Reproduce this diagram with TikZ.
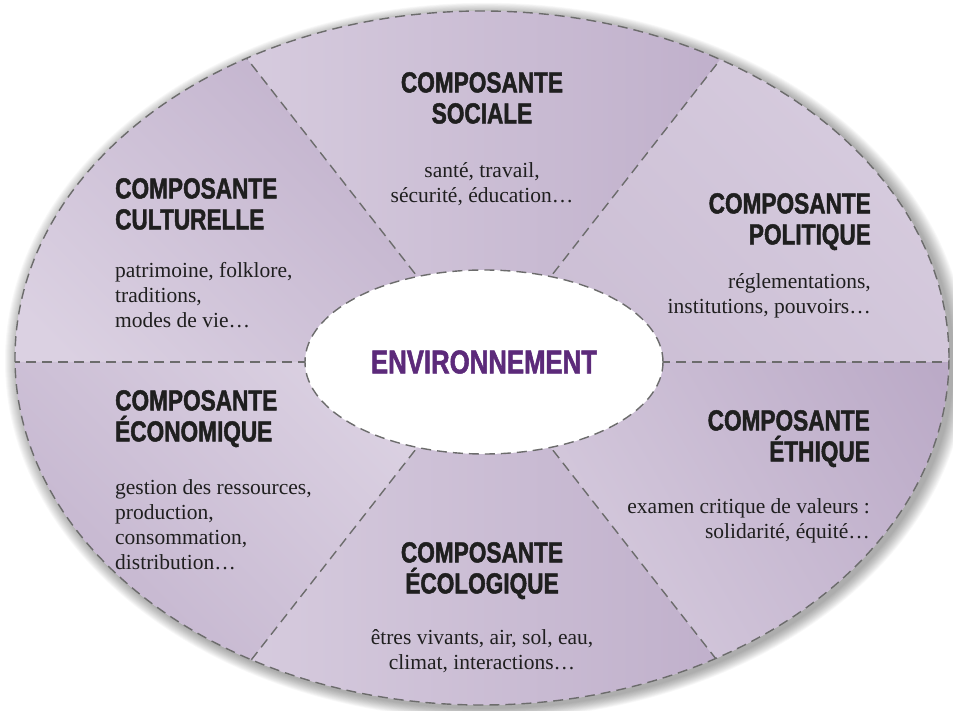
\documentclass[tikz,border=0pt]{standalone}
\usepackage{fontspec}
\setmainfont{Liberation Serif}
\newfontfamily\titlefont[FakeStretch=0.78, FakeBold=1.6]{Liberation Sans}
\usetikzlibrary{positioning}
\definecolor{sectorlight}{RGB}{219,209,226}
\definecolor{sectormid}{RGB}{204,191,213}
\definecolor{sectordark}{RGB}{187,170,199}
\definecolor{envpurple}{RGB}{92,42,122}
\definecolor{dashgray}{RGB}{108,108,108}
\tikzset{
    divider/.style={draw=dashgray, line width=1.4pt, dash pattern=on 10pt off 6pt},
    comptitle/.style={font=\titlefont\bfseries\fontsize{29}{31}\selectfont, text=black!88, inner sep=0pt},
    comptext/.style={font=\fontsize{21.5}{25}\selectfont, text=black!88, inner sep=0pt},
}

\begin{document}
\begin{tikzpicture}[x=1pt, y=1pt]

    \useasboundingbox (0,0) rectangle (953,710);
    \coordinate (c) at (484,348);
    \coordinate (o) at (482,352);

    % soft shadow
    \foreach \s in {1,...,14}{
        \fill[black, opacity=0.028] (486,349) ellipse ({467+\s} and {347+0.8*\s});
    }

    \fill[sectorlight] (o) ellipse (467 and 347);

    % sectors
    \begin{scope}
        \clip (o) ellipse (467 and 347);
        \shade[left color=sectorlight, right color=sectordark] (c) -- +(52:560) -- +(128:560) -- cycle;
        \shade[top color=sectordark, bottom color=sectorlight, shading angle=-45] (c) -- +(128:560) -- +(180:560) -- cycle;
        \shade[top color=sectordark, bottom color=sectorlight, shading angle=135] (c) -- +(180:560) -- +(232:560) -- cycle;
        \shade[left color=sectorlight, right color=sectordark] (c) -- +(232:560) -- +(308:560) -- cycle;
        \shade[top color=sectordark, bottom color=sectorlight, shading angle=-60] (c) -- +(308:560) -- +(360:560) -- cycle;
        \shade[top color=sectormid, bottom color=sectorlight, shading angle=135] (c) -- +(0:560) -- +(52:560) -- cycle;

        \foreach \a in {0,52,128,180,232,308}{
            \draw[divider] (c) -- +(\a:560);
        }
    \end{scope}

    \draw[divider] (o) ellipse (467 and 347);
    \filldraw[divider, fill=white] (c) ellipse (179 and 92);

    \node[font=\titlefont\bfseries\fontsize{33}{33}\selectfont, text=envpurple] (env) at (c) {ENVIRONNEMENT};

    % Sociale
    \node[comptitle, anchor=north, align=center] (soc-title) at (482,638) {COMPOSANTE\\SOCIALE};
    \node[comptext, anchor=north, align=center] (soc-text) at (482,548) {santé, travail,\\sécurité, éducation…};

    % Culturelle
    \node[comptitle, anchor=north west, align=left] (cult-title) at (115,532) {COMPOSANTE\\CULTURELLE};
    \node[comptext, anchor=north west, align=left] (cult-text) at (115,448) {patrimoine, folklore,\\traditions,\\modes de vie…};

    % Politique
    \node[comptitle, anchor=north east, align=right] (pol-title) at (871,517) {COMPOSANTE\\POLITIQUE};
    \node[comptext, anchor=north east, align=right] (pol-text) at (871,437) {réglementations,\\institutions, pouvoirs…};

    % Economique
    \node[comptitle, anchor=north west, align=left] (eco-title) at (115,320) {COMPOSANTE\\ÉCONOMIQUE};
    \node[comptext, anchor=north west, align=left] (eco-text) at (115,231) {gestion des ressources,\\production,\\consommation,\\distribution…};

    % Ecologique
    \node[comptitle, anchor=north, align=center] (ecol-title) at (482,168) {COMPOSANTE\\ÉCOLOGIQUE};
    \node[comptext, anchor=north, align=center] (ecol-text) at (482,81) {êtres vivants, air, sol, eau,\\climat, interactions…};

    % Ethique
    \node[comptitle, anchor=north east, align=right] (eth-title) at (870,300) {COMPOSANTE\\ÉTHIQUE};
    \node[comptext, anchor=north east, align=right] (eth-text) at (870,212) {examen critique de valeurs :\\solidarité, équité…};

\end{tikzpicture}
\end{document}
